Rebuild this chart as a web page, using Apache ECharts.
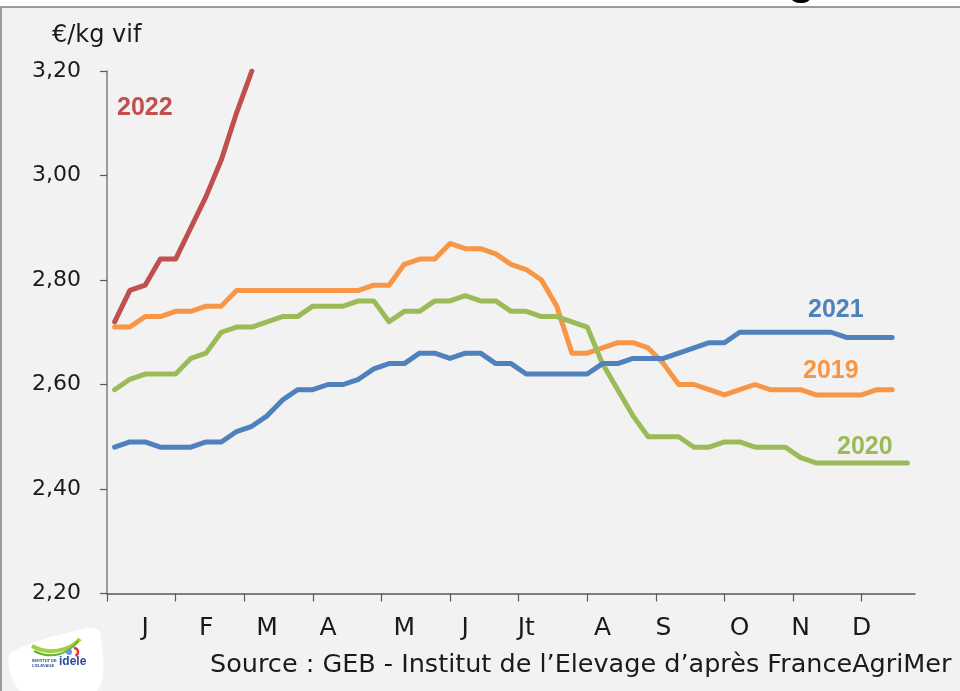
<!DOCTYPE html>
<html>
<head>
<meta charset="utf-8">
<script src="https://cdn.jsdelivr.net/npm/echarts@6/dist/echarts.min.js"></script>
<style>
  html, body { margin: 0; padding: 0; background: #ffffff; }
  #chart { width: 960px; height: 691px; }
</style>
</head>
<body>
<div id="chart"></div>
<script>
// prix hebdo, €/kg vif, semaines 1..52 (53 en 2020)
var y2019 = [2.71, 2.71, 2.73, 2.73, 2.74, 2.74, 2.75, 2.75, 2.78, 2.78,
  2.78, 2.78, 2.78, 2.78, 2.78, 2.78, 2.78, 2.79, 2.79, 2.83,
  2.84, 2.84, 2.87, 2.86, 2.86, 2.85, 2.83, 2.82, 2.80, 2.75,
  2.66, 2.66, 2.67, 2.68, 2.68, 2.67, 2.64, 2.60, 2.60, 2.59,
  2.58, 2.59, 2.60, 2.59, 2.59, 2.59, 2.58, 2.58, 2.58, 2.58,
  2.59, 2.59];
var y2020 = [2.59, 2.61, 2.62, 2.62, 2.62, 2.65, 2.66, 2.70, 2.71, 2.71,
  2.72, 2.73, 2.73, 2.75, 2.75, 2.75, 2.76, 2.76, 2.72, 2.74,
  2.74, 2.76, 2.76, 2.77, 2.76, 2.76, 2.74, 2.74, 2.73, 2.73,
  2.72, 2.71, 2.64, 2.59, 2.54, 2.50, 2.50, 2.50, 2.48, 2.48,
  2.49, 2.49, 2.48, 2.48, 2.48, 2.46, 2.45, 2.45, 2.45, 2.45,
  2.45, 2.45, 2.45];
var y2021 = [2.48, 2.49, 2.49, 2.48, 2.48, 2.48, 2.49, 2.49, 2.51, 2.52,
  2.54, 2.57, 2.59, 2.59, 2.60, 2.60, 2.61, 2.63, 2.64, 2.64,
  2.66, 2.66, 2.65, 2.66, 2.66, 2.64, 2.64, 2.62, 2.62, 2.62,
  2.62, 2.62, 2.64, 2.64, 2.65, 2.65, 2.65, 2.66, 2.67, 2.68,
  2.68, 2.70, 2.70, 2.70, 2.70, 2.70, 2.70, 2.70, 2.69, 2.69,
  2.69, 2.69];
var y2022 = [2.72, 2.78, 2.79, 2.84, 2.84, 2.90, 2.96, 3.03, 3.12, 3.20];

var monthLabels = ['J', 'F', 'M', 'A', 'M', 'J', 'Jt', 'A', 'S', 'O', 'N', 'D'];
var monthPos = [2.5, 6.5, 10.5, 14.5, 19.5, 23.5, 27.5, 32.5, 36.5, 41.5, 45.5, 49.5];
var monthTicks = [0, 4.5, 9, 13.5, 18, 22.5, 27, 31.5, 36, 40.5, 45, 49.5];

var font = 'DejaVu Sans';
var yearFont = 'Liberation Sans';

// semaine n -> milieu de la case n
function weeks(arr) {
  return arr.map(function (v, i) { return [i + 0.5, v]; });
}

function serie(name, arr, color) {
  return {
    name: name,
    type: 'line',
    data: weeks(arr),
    symbol: 'none',
    silent: true,
    lineStyle: { color: color, width: 5, cap: 'round', join: 'round' }
  };
}

var chart = echarts.init(document.getElementById('chart'));

var option = {
  backgroundColor: '#ffffff',
  animation: false,
  textStyle: { fontFamily: font },
  grid: { left: 107, right: 45, top: 71, bottom: 97.5 },
  xAxis: {
    type: 'value',
    min: 0,
    max: 53,
    splitLine: { show: false },
    axisLine: { show: true, lineStyle: { color: '#595959', width: 1.5 } },
    axisTick: {
      show: true,
      customValues: monthTicks,
      length: 8,
      lineStyle: { color: '#595959', width: 1.2 }
    },
    axisLabel: {
      customValues: monthPos,
      margin: 22,
      color: '#1a1a1a',
      fontSize: 25,
      fontFamily: font,
      formatter: function (v) {
        var i = monthPos.indexOf(v);
        return i >= 0 ? monthLabels[i] : '';
      }
    }
  },
  yAxis: {
    type: 'value',
    min: 2.2,
    max: 3.2,
    interval: 0.2,
    splitLine: { show: false },
    axisLine: { show: true, lineStyle: { color: '#7f7f7f', width: 1.5 } },
    axisTick: { show: true, length: 7, lineStyle: { color: '#595959', width: 1.2 } },
    axisLabel: {
      margin: 26,
      color: '#1a1a1a',
      fontSize: 22,
      fontFamily: font,
      formatter: function (v) { return v.toFixed(2).replace('.', ','); }
    }
  },
  series: [
    serie('2019', y2019, '#f79646'),
    serie('2020', y2020, '#9bbb59'),
    serie('2021', y2021, '#4f81bd'),
    serie('2022', y2022, '#c0504d')
  ],
  graphic: [
    // bout du titre coupé
    { type: 'text', z: -20, left: 788, top: -40,
      style: { text: 'g', font: 'bold 44px ' + yearFont, fill: '#000' } },
    { type: 'rect', z: -10, shape: { x: 1, y: 7, width: 970, height: 700 },
      style: { fill: '#f2f2f2', stroke: '#7f7f7f', lineWidth: 1.5 } },
    { type: 'text', left: 52, top: 24,
      style: { text: '€/kg vif', font: '24px ' + font, fill: '#1a1a1a' } },
    { type: 'text', left: 117, top: 96,
      style: { text: '2022', font: 'bold 25px ' + yearFont, fill: '#c0504d' } },
    { type: 'text', left: 808, top: 298,
      style: { text: '2021', font: 'bold 25px ' + yearFont, fill: '#4f81bd' } },
    { type: 'text', left: 803, top: 359,
      style: { text: '2019', font: 'bold 25px ' + yearFont, fill: '#f79646' } },
    { type: 'text', left: 837, top: 435,
      style: { text: '2020', font: 'bold 25px ' + yearFont, fill: '#9bbb59' } },
    { type: 'text', left: 210, top: 652,
      style: { text: 'Source : GEB - Institut de l\u2019Elevage d\u2019apr\u00e8s FranceAgriMer',
        font: '25.5px ' + font, fill: '#1a1a1a' } },
    // logo idele
    { type: 'polygon', z: 5,
      shape: { points: [[12, 652], [88, 628], [100, 632], [96, 691], [22, 691], [10, 672]], smooth: 0.35 },
      style: { fill: '#ffffff' } },
    { type: 'bezierCurve', z: 6,
      shape: { x1: 32, y1: 646, x2: 80, y2: 639, cpx1: 50, cpy1: 656, cpx2: 70, cpy2: 650 },
      style: { stroke: '#a3cf3f', lineWidth: 4, fill: null } },
    { type: 'bezierCurve', z: 6,
      shape: { x1: 34, y1: 651, x2: 78, y2: 641, cpx1: 52, cpy1: 660, cpx2: 68, cpy2: 654 },
      style: { stroke: '#5cb531', lineWidth: 2, fill: null } },
    { type: 'circle', z: 6, shape: { cx: 69, cy: 652, r: 3 }, style: { fill: '#6d9bd1' } },
    { type: 'arc', z: 6, shape: { cx: 74, cy: 652, r: 4, startAngle: -1.6, endAngle: 1.2 },
      style: { stroke: '#e2312d', lineWidth: 2.5, fill: null } },
    { type: 'text', z: 6, left: 32, top: 658,
      style: { text: 'INSTITUT DE\nL\u2019ELEVAGE', font: 'bold 4px ' + yearFont, fill: '#2a4b9b', lineHeight: 5 } },
    { type: 'text', z: 6, left: 59, top: 656,
      style: { text: 'idele', font: 'bold 12px ' + yearFont, fill: '#2a4b9b' } }
  ]
};

chart.setOption(option);
</script>
</body>
</html>
